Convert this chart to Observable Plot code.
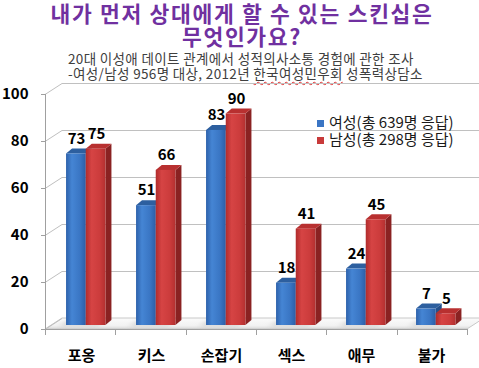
<!DOCTYPE html>
<html><head><meta charset="utf-8">
<script src="https://cdn.jsdelivr.net/npm/d3@7"></script>
<script src="https://cdn.jsdelivr.net/npm/@observablehq/plot@0.6"></script>
<style>
body{margin:0;background:#fff;font-family:"Noto Sans CJK KR","Noto Sans",sans-serif;}
#wrap{position:relative;width:479px;height:368px;overflow:hidden;background:#fff}
#title{position:absolute;left:0;top:1px;width:484px;text-align:center;color:#7030a0;font-weight:700;font-size:21.5px;line-height:23px;letter-spacing:1.7px}
#sub{position:absolute;left:68px;top:51px;color:#404040;font-size:13.5px;line-height:14.5px;letter-spacing:0.35px;white-space:nowrap}
#sub .sp{text-decoration:underline wavy #e03030;text-decoration-thickness:1px;text-underline-offset:2px}
#chart{position:absolute;left:0;top:80px}
#legend{position:absolute;left:317px;top:113px;font-size:15px;line-height:17px;color:#1a1a1a;white-space:nowrap}
#legend .sw{display:inline-block;width:7px;height:7px;margin-right:5px;vertical-align:1px}
</style></head><body>
<div id="wrap">
  <div id="title">내가 먼저 상대에게 할 수 있는 스킨십은<br>무엇인가요?</div>
  <div id="sub">20대 이성애 데이트 관계에서 성적의사소통 경험에 관한 조사<br>-여성/남성 956명 대상, 2012년 <span class="sp">한국여성민우회</span> 성폭력상담소</div>
  <div id="chart"></div>
  <div id="legend"></div>
</div>
<script>
const categories = ["포옹", "키스", "손잡기", "섹스", "애무", "불가"];
const female = [73, 51, 83, 18, 24, 7];
const male = [75, 66, 90, 41, 45, 5];
const seriesNames = ["여성(총 639명 응답)", "남성(총 298명 응답)"];
const yTicks = [0, 20, 40, 60, 80, 100];

const palette = {
  front: [["#2e62ab", "#4585d4", "#3a76c4", "#2c5ea5"], ["#b02c2c", "#d64444", "#cc3c3c", "#b43030"]],
  side: ["#24508c", "#8a2222"],
  top: ["#2d5f9f", "#b83030"],
  swatch: ["#3a75c4", "#c83a3a"]
};

const table = categories.flatMap((c, i) => [
  {cat: c, series: 0, value: female[i]},
  {cat: c, series: 1, value: male[i]}
]);

const DX = 17, DY = -11;      // depth of the chart's back wall
const BDX = 6, BDY = -5;      // depth of each bar
const SHIFT = -4;             // bars sit slightly behind the front edge

function frame3d(index, scales, values, dim) {
  const y = scales.y;
  const left = dim.marginLeft, right = dim.width - dim.marginRight;
  const bw = (right - left) / categories.length;
  const y0 = y(0);
  const g = d3.create("svg:g");
  const defs = g.append("defs");
  const fg = defs.append("linearGradient").attr("id", "floorg").attr("x1", 0).attr("x2", 0).attr("y1", 0).attr("y2", 1);
  fg.append("stop").attr("offset", "0%").attr("stop-color", "#fbfbfb");
  fg.append("stop").attr("offset", "70%").attr("stop-color", "#f2f2f2");
  fg.append("stop").attr("offset", "100%").attr("stop-color", "#d9d9d9");
  g.append("polygon")
    .attr("points", [[left, y0], [left + DX, y0 + DY], [right + DX, y0 + DY], [right, y0]].join(" "))
    .attr("fill", "url(#floorg)").attr("stroke", "#c8c8c8").attr("stroke-width", 1);
  for (const v of yTicks) {
    const yy = Math.round(y(v)) + 0.5;
    g.append("line").attr("x1", left).attr("y1", yy).attr("x2", left + DX).attr("y2", yy + DY).attr("stroke", "#bfbfbf");
    g.append("line").attr("x1", left - 4).attr("y1", yy).attr("x2", left).attr("y2", yy).attr("stroke", "#a0a0a0");
  }
  g.append("line").attr("x1", left + 0.5).attr("y1", y(100)).attr("x2", left + 0.5).attr("y2", y0).attr("stroke", "#a0a0a0");
  g.append("line").attr("x1", left).attr("y1", Math.round(y0) + 0.5).attr("x2", right).attr("y2", Math.round(y0) + 0.5).attr("stroke", "#a0a0a0");
  for (let k = 0; k <= categories.length; k++) {
    const xx = Math.round(left + k * bw) + 0.5;
    g.append("line").attr("x1", xx).attr("y1", y0).attr("x2", xx).attr("y2", y0 + 6).attr("stroke", "#a0a0a0");
  }
  return g.node();
}

function bars3d(index, scales, values, dim) {
  const x = scales.x, y = scales.y;
  const bw = (dim.width - dim.marginLeft - dim.marginRight) / categories.length;
  const fw = bw * 0.28;
  const g = d3.create("svg:g");
  const defs = g.append("defs");
  palette.front.forEach((cols, s) => {
    const lg = defs.append("linearGradient").attr("id", "fg" + s);
    [0, 30, 70, 100].forEach((o, j) => lg.append("stop").attr("offset", o + "%").attr("stop-color", cols[j]));
  });
  const shadow = defs.append("filter").attr("id", "blur").attr("x", "-50%").attr("y", "-50%").attr("width", "200%").attr("height", "200%");
  shadow.append("feGaussianBlur").attr("stdDeviation", 2);
  const yb = y(0) + SHIFT;
  for (const d of table) {
    if (d.series !== 0) continue;
    const bx = x(d.cat) + bw * 0.285;
    g.append("polygon")
      .attr("points", [[bx - 8, yb + 2], [bx, yb - 4], [bx + 2 * fw, yb - 4], [bx + 2 * fw - 8, yb + 2]].join(" "))
      .attr("fill", "#c8c8c8").attr("opacity", 0.6).attr("filter", "url(#blur)");
  }
  for (const d of table) {
    const x0 = x(d.cat) + bw * 0.285 + d.series * fw;
    const x1 = x0 + fw;
    const yt = y(d.value) + SHIFT;
    g.append("polygon")
      .attr("points", [[x1, yb], [x1 + BDX, yb + BDY], [x1 + BDX, yt + BDY], [x1, yt]].join(" "))
      .attr("fill", palette.side[d.series]);
    g.append("polygon")
      .attr("points", [[x0, yt], [x0 + BDX, yt + BDY], [x1 + BDX, yt + BDY], [x1, yt]].join(" "))
      .attr("fill", palette.top[d.series]);
    g.append("rect")
      .attr("x", x0).attr("y", yt).attr("width", fw).attr("height", Math.max(0, yb - yt))
      .attr("fill", `url(#fg${d.series})`);
  }
  return g.node();
}

const plot = Plot.plot({
  width: 479,
  height: 288,
  marginLeft: 45,
  marginRight: 12,
  marginTop: 14,
  marginBottom: 39,
  x: {type: "band", domain: categories, padding: 0, axis: null},
  y: {domain: [0, 100], axis: null},
  style: {fontFamily: "'Noto Sans CJK KR', sans-serif", background: "transparent", overflow: "visible"},
  marks: [
    frame3d,
    Plot.ruleY(yTicks.filter(v => v > 0), {y: d => d, dx: DX, dy: DY, stroke: "#c0c0c0", strokeWidth: 1}),
    bars3d,
    Plot.text(yTicks, {y: d => d, frameAnchor: "left", textAnchor: "end", dx: -17, text: d => String(d),
      fontSize: 15, fontWeight: 700, fill: "#000"}),
    Plot.text(categories, {x: d => d, frameAnchor: "bottom", dy: 31, text: d => d,
      fontSize: 15, fontWeight: 700, fill: "#000", letterSpacing: 1.5}),
    Plot.text(table.filter(d => d.series === 0), {x: "cat", y: "value", text: d => String(d.value), dx: -5, dy: -19,
      fontSize: 15, fontWeight: 700, fill: "#000"}),
    Plot.text(table.filter(d => d.series === 1), {x: "cat", y: "value", text: d => String(d.value), dx: 15, dy: -19,
      fontSize: 15, fontWeight: 700, fill: "#000"})
  ]
});
document.getElementById("chart").appendChild(plot);

const legend = document.getElementById("legend");
seriesNames.forEach((name, s) => {
  const row = document.createElement("div");
  const sw = document.createElement("span");
  sw.className = "sw";
  sw.style.background = palette.swatch[s];
  row.appendChild(sw);
  row.appendChild(document.createTextNode(name));
  legend.appendChild(row);
});
</script>
</body></html>
